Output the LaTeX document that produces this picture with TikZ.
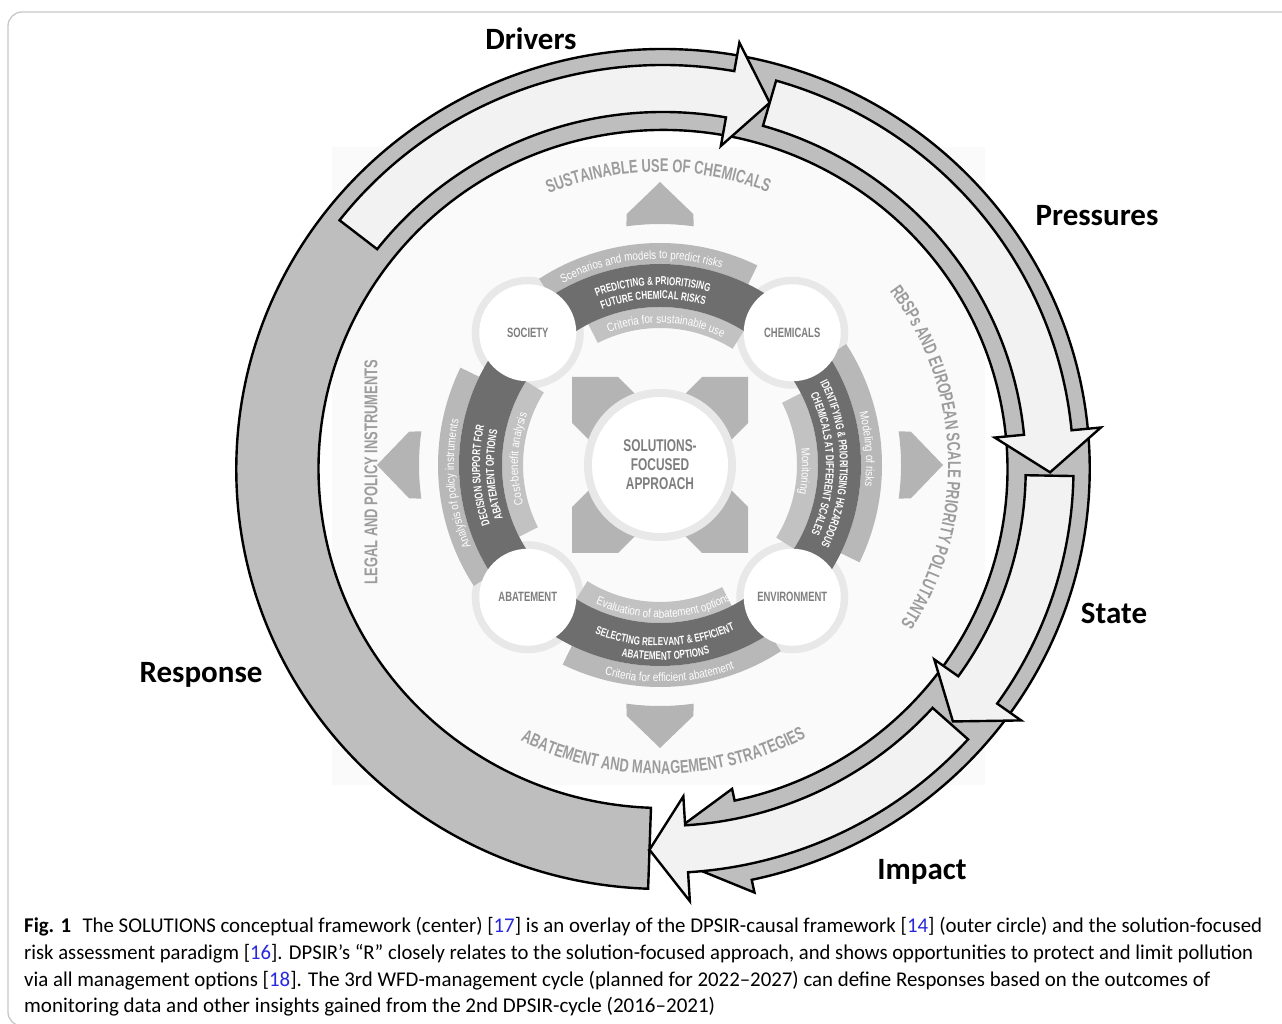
\documentclass[tikz,border=0pt]{standalone}
\usepackage{fontspec}
\usepackage{graphicx}
\usetikzlibrary{decorations.text}
\setmainfont{Carlito}
\newfontfamily\cnd[FakeStretch=0.7]{Liberation Sans}
\newfontfamily\nrw[FakeStretch=0.82]{Liberation Sans}

\definecolor{ringgray}{HTML}{BEBEBE}
\definecolor{arrowlight}{HTML}{F2F2F2}
\definecolor{darkband}{HTML}{6E6E6E}
\definecolor{bandA}{HTML}{B8B8B8}
\definecolor{bandB}{HTML}{C2C2C2}
\definecolor{piece}{HTML}{B4B4B4}
\definecolor{halo}{HTML}{E8E8E8}
\definecolor{labgray}{HTML}{9C9C9C}
\definecolor{circtext}{HTML}{7E7E7E}
\definecolor{refblue}{RGB}{40,40,220}
\definecolor{framegray}{HTML}{C8C8C8}
\definecolor{bgsq}{HTML}{FAFAFA}

\newcommand\fsmall{\nrw\fontsize{12}{12}\selectfont\color{white}}
\newcommand\fbold{\cnd\bfseries\fontsize{11.5}{12}\selectfont\color{white}}
\newcommand\flab{\cnd\bfseries\fontsize{18.5}{19}\selectfont\color{labgray}}
\newcommand\capfont{\fontsize{21}{25}\selectfont}

\newcommand\arctext[5]{\path[decorate,decoration={text along path,text align=center,text={|#4|#5{~}}}] (#2:#1) arc[start angle=#2,end angle=#3,radius=#1];}

\newcommand\dparrow[3]{\draw[ringline, fill=arrowlight] (#1:357) -- (#1:404) arc[start angle=#1, end angle=#2, radius=404] -- (#2:433) -- (#3:381) -- (#2:328) -- (#2:357) arc[start angle=#2, end angle=#1, radius=357] -- cycle;}

\tikzset{
  ringline/.style={draw=black, line width=2.4pt, line join=miter},
  dlab/.style={font=\bfseries\fontsize{31}{31}\selectfont, text=black, inner sep=0pt},
  clab/.style={font=\cnd\bfseries\fontsize{13.5}{14}\selectfont, text=circtext},
  caprow/.style={anchor=base west, inner sep=0pt}
}

\begin{document}
\begin{tikzpicture}[x=1pt,y=1pt]
\useasboundingbox (0,0) rectangle (1282,1023);
\fill[white] (0,0) rectangle (1282,1023);
\draw[framegray, line width=1.3pt, rounded corners=14pt] (8,-3) rectangle (1300,1011);
\fill[bgsq] (332,238) rectangle (985,876);

% ---------------- inner SOLUTIONS figure ----------------
\begin{scope}[shift={(660,558)}]
  \foreach \r in {0,90,180,270}{
    \fill[piece, rotate=\r] (-88,88) -- (-42,88) -- (0,46) -- (-46,0) -- (-88,42) -- cycle;
  }
  \fill[halo] (0,0) circle[radius=76];
  \fill[white] (0,0) circle[radius=68];
  \node[font=\cnd\bfseries\fontsize{17}{19}\selectfont, text=circtext, align=center] (sfa) at (0,0) {SOLUTIONS-\\FOCUSED\\APPROACH};

  \foreach \c in {90,0,270,180}{
    \fill[piece] (\c+8:241) -- (\c+7.6:253) -- (\c:283) -- (\c-7.6:253) -- (\c-8:241) arc[start angle=\c-8, end angle=\c+8, radius=241] -- cycle;
  }

  \foreach \a in {45,135,225,315}{
    \fill[halo] (\a:187) circle[radius=56];
  }
  \foreach \c in {90,0,270,180}{
    \fill[bandA] (\c-26:201) arc[start angle=\c-26, end angle=\c+33, radius=201] -- (\c+33:222) arc[start angle=\c+33, end angle=\c-26, radius=222] -- cycle;
    \fill[bandB] (\c-32:137) arc[start angle=\c-32, end angle=\c+27, radius=137] -- (\c+27:158) arc[start angle=\c+27, end angle=\c-32, radius=158] -- cycle;
    \fill[darkband] (\c-45:158) arc[start angle=\c-45, end angle=\c+45, radius=158] -- (\c+45:201) arc[start angle=\c+45, end angle=\c-45, radius=201] -- cycle;
  }
  \foreach \a/\t/\n in {135/SOCIETY/soc, 45/CHEMICALS/che, 225/ABATEMENT/aba, 315/ENVIRONMENT/env}{
    \fill[white] (\a:187) circle[radius=48.5];
    \node[clab] (\n) at (\a:187) {\t};
  }

  % top band
  \arctext{206}{135}{55}{\fsmall}{Scenarios and models to predict risks}
  \arctext{180}{137}{47}{\fbold}{PREDICTING {\&} PRIORITISING}
  \arctext{166}{137}{47}{\fbold}{FUTURE CHEMICAL RISKS}
  \arctext{142}{127}{47}{\fsmall}{Criteria for sustainable use}
  % right band
  \arctext{206}{44}{-36}{\fsmall}{Modeling of risks}
  \arctext{180}{45}{-45}{\fbold}{IDENTIFYING {\&} PRIORITISING HAZARDOUS}
  \arctext{166}{45}{-45}{\fbold}{CHEMICALS AT DIFFERENT SCALES}
  \arctext{142}{37}{-43}{\fsmall}{Monitoring}
  % left band
  \arctext{206}{225}{145}{\fsmall}{Analysis of policy instruments}
  \arctext{180}{223}{143}{\fbold}{DECISION SUPPORT FOR}
  \arctext{166}{223}{143}{\fbold}{ABATEMENT OPTIONS}
  \arctext{142}{217}{137}{\fsmall}{Cost-benefit analysis}
  % bottom band
  \arctext{153}{230}{314}{\fsmall}{Evaluation of abatement options}
  \arctext{181}{232}{312}{\fbold}{SELECTING RELEVANT {\&} EFFICIENT}
  \arctext{195}{232}{312}{\fbold}{ABATEMENT OPTIONS}
  \arctext{217}{233}{313}{\fsmall}{Criteria for efficient abatement}

  % outer labels
  \arctext{293}{135}{45}{\flab}{SUSTAINABLE USE OF CHEMICALS}
  \arctext{288}{52}{-49}{\flab}{RBSPs AND EUROPEAN SCALE PRIORITY POLLUTANTS}
  \arctext{309}{226}{316}{\flab}{ABATEMENT AND MANAGEMENT STRATEGIES}
  \node[font=\cnd\bfseries\fontsize{18.5}{19}\selectfont, text=labgray, rotate=90, inner sep=0pt] (legal) at (-289,-7) {LEGAL AND POLICY INSTRUMENTS};
\end{scope}

% ---------------- DPSIR ring ----------------
\begin{scope}[shift={(663,554)}, xscale=1.016]
  \draw[ringline, fill=ringgray] (268:339) -- (268:420) arc[start angle=268, end angle=-78, radius=420] -- (-78:433) -- (-92:381) -- (-78:327) -- (-78:339) arc[start angle=-78, end angle=268, radius=339] -- cycle;
  \dparrow{142}{80}{74}
  \dparrow{74}{5.5}{-0.5}
  \dparrow{-1}{-35.5}{-41.5}
  \dparrow{-42}{-86.5}{-92}
\end{scope}

\node[dlab, anchor=base] (drv) at (531,973) {Drivers};
\node[dlab, anchor=base] (prs) at (1097,797) {Pressures};
\node[dlab, anchor=base] (sta) at (1114,399) {State};
\node[dlab, anchor=base] (imp) at (922,143) {Impact};
\node[dlab, anchor=base] (rsp) at (201,340) {Response};

% ---------------- caption ----------------
\node[caprow] (cap1) at (24,91) {\resizebox{1238pt}{\height}{\capfont\textbf{Fig. 1}\hspace{0.55em}The SOLUTIONS conceptual framework (center) [\textcolor{refblue}{17}] is an overlay of the DPSIR-causal framework [\textcolor{refblue}{14}] (outer circle) and the solution-focused}};
\node[caprow] (cap2) at (24,64) {\resizebox{1229pt}{\height}{\capfont risk assessment paradigm [\textcolor{refblue}{16}]. DPSIR’s “R” closely relates to the solution-focused approach, and shows opportunities to protect and limit pollution}};
\node[caprow] (cap3) at (24,37) {\resizebox{1186pt}{\height}{\capfont via all management options [\textcolor{refblue}{18}]. The 3rd WFD-management cycle (planned for 2022–2027) can define Responses based on the outcomes of}};
\node[caprow] (cap4) at (24,11) {\resizebox{691pt}{\height}{\capfont monitoring data and other insights gained from the 2nd DPSIR-cycle (2016–2021)}};
\end{tikzpicture}
\end{document}
